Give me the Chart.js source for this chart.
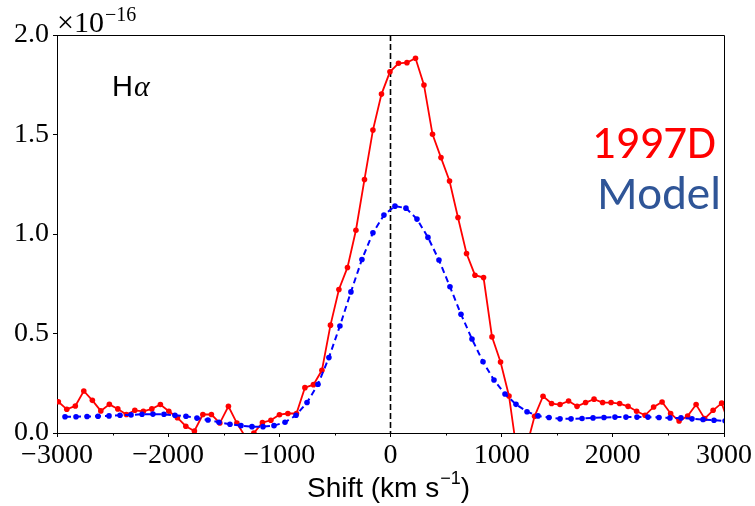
<!DOCTYPE html>
<html>
<head>
<meta charset="utf-8">
<script src="https://cdn.jsdelivr.net/npm/chart.js@4/dist/chart.umd.min.js"></script>
<style>
  html, body { margin: 0; padding: 0; background: #fff; }
</style>
</head>
<body>
<canvas id="grafico" width="755" height="506"></canvas>
<script>
// observed 1997D profile (flux in units of 1e-16)
const obsShift = [
  -2988, -2912, -2835, -2759, -2682, -2606, -2529, -2453, -2376, -2300,
  -2223, -2147, -2070, -1994, -1917, -1841, -1764, -1688, -1611, -1535,
  -1458, -1382, -1305, -1229, -1152, -1076, -999, -923, -846, -770,
  -693, -617, -540, -464, -387, -311, -234, -158, -81, -5,
  72, 148, 225, 301, 378, 454, 531, 607, 684, 760,
  837, 913, 990, 1066, 1143, 1219, 1296, 1372, 1449, 1525,
  1602, 1678, 1755, 1831, 1908, 1984, 2061, 2137, 2214, 2290,
  2367, 2443, 2520, 2596, 2673, 2749, 2826, 2902, 2979, 3055
];
const obsFlux = [
  0.157, 0.119, 0.136, 0.211, 0.164, 0.111, 0.144, 0.121, 0.093, 0.114,
  0.109, 0.121, 0.143, 0.109, 0.077, 0.034, 0.010, 0.093, 0.093, 0.050,
  0.134, 0.050, -0.02, 0.0, 0.052, 0.064, 0.092, 0.098, 0.098, 0.228,
  0.243, 0.315, 0.542, 0.721, 0.832, 1.019, 1.274, 1.522, 1.703, 1.815,
  1.858, 1.861, 1.883, 1.749, 1.501, 1.384, 1.266, 1.083, 0.902, 0.793,
  0.781, 0.483, 0.357, 0.186, -0.12, -0.08, 0.084, 0.185, 0.148, 0.143,
  0.161, 0.134, 0.153, 0.170, 0.153, 0.153, 0.148, 0.134, 0.109, 0.089,
  0.131, 0.156, 0.098, 0.060, 0.085, 0.143, 0.072, 0.114, 0.150, 0.030
];

// model profile
const modelShift = [
  -2928, -2829, -2730, -2631, -2532, -2433, -2334, -2235, -2137, -2038,
  -1939, -1840, -1741, -1642, -1543, -1444, -1345, -1246, -1147, -1048,
  -949, -850, -751, -652, -554, -455, -356, -257, -158, -59,
  40, 139, 238, 337, 436, 535, 634, 733, 832, 931,
  1030, 1129, 1228, 1327, 1426, 1525, 1624, 1723, 1822, 1920,
  2019, 2118, 2217, 2316, 2415, 2514, 2613, 2712, 2811, 2910, 3009
];
const modelFlux = [
  0.082, 0.082, 0.083, 0.084, 0.086, 0.089, 0.091, 0.094, 0.095, 0.094,
  0.089, 0.084, 0.075, 0.065, 0.054, 0.044, 0.037, 0.032, 0.032, 0.037,
  0.054, 0.089, 0.153, 0.245, 0.379, 0.538, 0.709, 0.872, 1.006, 1.095,
  1.140, 1.130, 1.075, 0.983, 0.869, 0.735, 0.597, 0.472, 0.358, 0.266,
  0.196, 0.144, 0.107, 0.086, 0.078, 0.071, 0.071, 0.073, 0.076, 0.078,
  0.080, 0.080, 0.080, 0.080, 0.078, 0.076, 0.076, 0.071, 0.068, 0.064, 0.061
];

const xTicks = [-3000, -2000, -1000, 0, 1000, 2000, 3000];
const xMinorTicks = [-2500, -1500, -500, 500, 1500, 2500];
const yTicks = [0, 0.5, 1.0, 1.5, 2.0];

const serif = "'Liberation Serif', 'DejaVu Serif', serif";
const sans = "'Liberation Sans', Arial, sans-serif";

const pares = (xs, ys) => xs.map((x, i) => ({ x: x, y: ys[i] }));

const decoracao = {
  id: 'decoracao',
  beforeDatasetsDraw(chart) {
    const ctx = chart.ctx;
    const a = chart.chartArea;
    const x0 = chart.scales.x.getPixelForValue(0);
    ctx.save();
    ctx.strokeStyle = '#000';
    ctx.lineWidth = 1.6;
    ctx.setLineDash([6, 3]);
    ctx.beginPath();
    ctx.moveTo(x0, a.top);
    ctx.lineTo(x0, a.bottom);
    ctx.stroke();
    ctx.restore();
  },
  afterDraw(chart) {
    const ctx = chart.ctx;
    const a = chart.chartArea;
    const sx = chart.scales.x;
    ctx.save();

    // caixa
    ctx.strokeStyle = '#000';
    ctx.lineWidth = 1;
    ctx.beginPath();
    ctx.moveTo(a.left, a.top + 0.5);
    ctx.lineTo(a.right + 0.5, a.top + 0.5);
    ctx.lineTo(a.right + 0.5, a.bottom);
    ctx.stroke();

    // ticks menores
    ctx.beginPath();
    xMinorTicks.forEach(v => {
      const p = Math.round(sx.getPixelForValue(v)) + 0.5;
      ctx.moveTo(p, a.bottom);
      ctx.lineTo(p, a.bottom + 2.5);
    });
    ctx.stroke();

    ctx.fillStyle = '#000';
    ctx.textBaseline = 'alphabetic';
    ctx.textAlign = 'left';

    // fator de escala
    ctx.font = '30px ' + serif;
    ctx.fillText('\u00d710', 57, 32);
    const w10 = ctx.measureText('\u00d710').width;
    ctx.font = '20px ' + serif;
    ctx.fillText('\u221216', 57 + w10 + 1, 21);

    // H alpha
    ctx.font = '29px ' + sans;
    ctx.fillText('H', 112, 96);
    const wH = ctx.measureText('H').width;
    ctx.font = 'italic 30px ' + serif;
    ctx.fillText('\u03b1', 112 + wH + 1, 96);

    // legenda em texto
    ctx.textAlign = 'right';
    ctx.font = '47px Carlito, Lato, ' + sans;
    ctx.fillStyle = '#ff0000';
    ctx.fillText('1997D', 716, 158);
    ctx.fillStyle = '#2f5597';
    ctx.fillText('Model', 721, 209);

    // titulo do eixo x
    ctx.fillStyle = '#000';
    ctx.textAlign = 'left';
    ctx.font = '28px ' + sans;
    const p1 = 'Shift (km s';
    const p3 = ')';
    const w1 = ctx.measureText(p1).width;
    const w3 = ctx.measureText(p3).width;
    ctx.font = '18px ' + sans;
    const p2 = '\u22121';
    const w2 = ctx.measureText(p2).width;
    const total = w1 + w2 + w3 + 1;
    const cx = (a.left + a.right) / 2 - 2;
    let x = cx - total / 2;
    ctx.font = '28px ' + sans;
    ctx.fillText(p1, x, 497);
    x += w1 + 1;
    ctx.font = '18px ' + sans;
    ctx.fillText(p2, x, 484);
    x += w2;
    ctx.font = '28px ' + sans;
    ctx.fillText(p3, x, 497);

    ctx.restore();
  }
};

new Chart(document.getElementById('grafico'), {
  type: 'line',
  data: {
    datasets: [
      {
        label: 'Model',
        data: pares(modelShift, modelFlux),
        borderColor: '#0000ff',
        backgroundColor: '#0000ff',
        borderWidth: 2,
        borderDash: [6, 4],
        pointRadius: 2.8,
        pointBorderWidth: 0,
        pointBackgroundColor: '#0000ff',
        tension: 0,
        clip: 0
      },
      {
        label: '1997D',
        data: pares(obsShift, obsFlux),
        borderColor: '#ff0000',
        backgroundColor: '#ff0000',
        borderWidth: 1.8,
        pointRadius: 2.8,
        pointBorderWidth: 0,
        pointBackgroundColor: '#ff0000',
        tension: 0,
        clip: 0
      }
    ]
  },
  options: {
    responsive: false,
    animation: false,
    devicePixelRatio: 1,
    layout: { padding: { top: 35, right: 31, left: 0, bottom: 0 } },
    plugins: {
      legend: { display: false },
      tooltip: { enabled: false }
    },
    scales: {
      x: {
        type: 'linear',
        min: -3000,
        max: 3000,
        afterBuildTicks: s => { s.ticks = xTicks.map(v => ({ value: v })); },
        afterFit: s => { s.height = 73; },
        ticks: {
          color: '#000',
          padding: 2,
          maxRotation: 0,
          font: { family: serif, size: 28 },
          callback: v => (v < 0 ? '\u2212' + Math.abs(v) : String(v))
        },
        grid: { drawOnChartArea: false, tickLength: 4, color: '#000', tickColor: '#000' },
        border: { display: true, color: '#000', width: 1 }
      },
      y: {
        type: 'linear',
        min: 0,
        max: 2,
        afterBuildTicks: s => { s.ticks = yTicks.map(v => ({ value: v })); },
        afterFit: s => { s.width = 57; },
        ticks: {
          color: '#000',
          padding: 4,
          font: { family: serif, size: 28 },
          callback: v => v.toFixed(1)
        },
        grid: { drawOnChartArea: false, tickLength: 4, color: '#000', tickColor: '#000' },
        border: { display: true, color: '#000', width: 1 }
      }
    }
  },
  plugins: [decoracao]
});
</script>
</body>
</html>
